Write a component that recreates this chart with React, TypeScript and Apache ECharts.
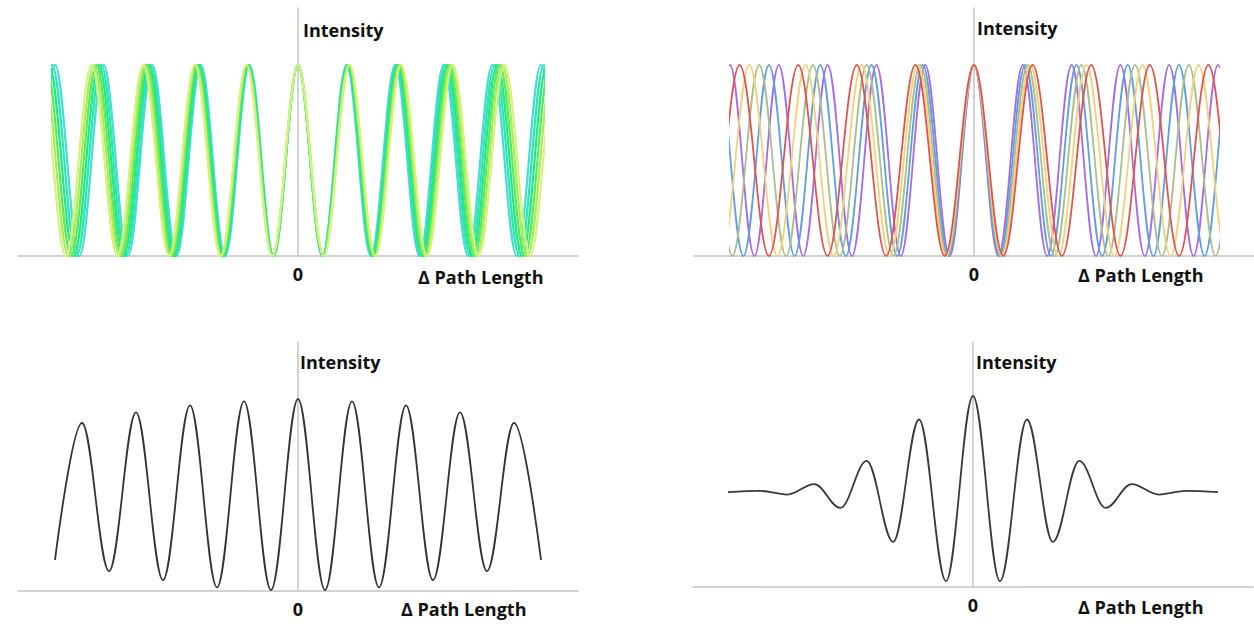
import React, { useEffect, useRef } from "react";
import * as echarts from "echarts";

// ---------------- data ----------------
// Top-left: narrow-band source, fringe periods (in units of the mean fringe period)
const narrowBandPeriods = [0.972, 0.984, 0.996, 1.008, 1.02, 1.032];
const narrowBandColors = ["#46dcd8", "#2ee4b4", "#22e884", "#5ce85c", "#a8ec5c", "#d6f27e"];

// Top-right: broad-band source, fringe periods (same unit)
const broadBandPeriods = [0.976, 1.025, 1.074, 1.123, 1.172];
const broadBandColors = ["#a66be6", "#5f9fe0", "#a8bf8f", "#f2d27d", "#e0534d"];

// Bottom-left: summed narrow-band fringes, extrema (x in fringe periods, y relative intensity)
const narrowSumX = [-4.5, -4, -3.5, -3, -2.5, -2, -1.5, -1, -0.5, 0, 0.5, 1, 1.5, 2, 2.5, 3, 3.5, 4, 4.5];
const narrowSumY = [0.162, 0.875, 0.104, 0.93, 0.057, 0.967, 0.019, 0.988, 0.005, 1, 0.005, 0.988, 0.019, 0.967, 0.057, 0.93, 0.104, 0.875, 0.162];

// Bottom-right: summed broad-band fringes (white-light interferogram), extrema
const broadSumX = [-4.54, -3.95, -3.44, -2.94, -2.46, -1.97, -1.48, -1, -0.5, 0, 0.5, 1, 1.48, 1.97, 2.46, 2.94, 3.44, 3.95, 4.54];
const broadSumY = [0.497, 0.503, 0.484, 0.539, 0.414, 0.66, 0.236, 0.877, 0.031, 1, 0.031, 0.877, 0.236, 0.66, 0.414, 0.539, 0.484, 0.503, 0.497];

// Axis texts
const zeroTickLabel = "0";
const yAxisTitle = "Intensity";
const xAxisTitle = "\u0394 Path Length";

// ---------------- layout ----------------
const FONT = '"Open Sans", "Liberation Sans", Arial, sans-serif';
const AXIS_COLOR = "#c4c4c4";

const panels = [
  {
    axes: { left: 18, top: 8, width: 560, height: 248 },
    plot: { left: 53, top: 65, width: 490, height: 191 },
    xRange: 4.9,
    intensity: [303, 30],
    path: [418, 277],
  },
  {
    axes: { left: 694, top: 8, width: 560, height: 248 },
    plot: { left: 730, top: 65, width: 488, height: 191 },
    xRange: 4.88,
    intensity: [977, 28],
    path: [1078, 275],
  },
  {
    axes: { left: 18, top: 342, width: 560, height: 249 },
    plot: { left: 55, top: 399, width: 486, height: 192 },
    xRange: 4.5,
    intensity: [300, 362],
    path: [401, 609],
  },
  {
    axes: { left: 693, top: 342, width: 560, height: 245 },
    plot: { left: 728, top: 396, width: 490, height: 191 },
    xRange: 4.54,
    intensity: [976, 362],
    path: [1078, 607],
  },
];

// fringe extrema (peaks at multiples of the period, minima half-way), drawn smoothly by ECharts
function fringeExtrema(period: number, limit: number): number[][] {
  const pts: number[][] = [];
  const n = Math.ceil(limit / (period / 2)) + 1;
  for (let k = -n; k <= n; k++) pts.push([(k * period) / 2, k % 2 === 0 ? 1 : 0]);
  return pts;
}

function buildOption() {
  const grid: any[] = [];
  const xAxis: any[] = [];
  const yAxis: any[] = [];
  const series: any[] = [];
  const graphic: any[] = [];

  panels.forEach((p, i) => {
    // axes grid
    grid.push({ ...p.axes, containLabel: false, outerBoundsMode: "none" });
    xAxis.push({
      type: "value",
      gridIndex: 2 * i,
      min: -1,
      max: 1,
      interval: 1,
      axisLine: { show: true, onZero: true, lineStyle: { color: AXIS_COLOR, width: 1.5 } },
      axisTick: { show: false },
      splitLine: { show: false },
      axisLabel: {
        show: true,
        margin: 18,
        verticalAlign: "middle",
        formatter: (v: number) => (v === 0 ? zeroTickLabel : ""),
        fontFamily: FONT,
        fontWeight: "bold",
        fontSize: 18,
        color: "#111",
      },
    });
    yAxis.push({
      type: "value",
      gridIndex: 2 * i,
      min: 0,
      max: 1,
      axisLine: { show: true, onZero: true, lineStyle: { color: AXIS_COLOR, width: 1.5 } },
      axisTick: { show: false },
      axisLabel: { show: false },
      splitLine: { show: false },
    });
    // plot grid
    grid.push({ ...p.plot, containLabel: false, outerBoundsMode: "none" });
    xAxis.push({ type: "value", gridIndex: 2 * i + 1, min: -p.xRange, max: p.xRange, show: false });
    yAxis.push({ type: "value", gridIndex: 2 * i + 1, min: 0, max: 1, show: false });

    graphic.push({
      type: "text",
      x: p.intensity[0],
      y: p.intensity[1],
      style: {
        text: yAxisTitle,
        font: `bold 18px ${FONT}`,
        fill: "#111",
        align: "left",
        verticalAlign: "middle",
        textAlign: "left",
        textVerticalAlign: "middle",
      },
    });
    graphic.push({
      type: "text",
      x: p.path[0],
      y: p.path[1],
      style: {
        text: xAxisTitle,
        font: `bold 18px ${FONT}`,
        fill: "#111",
        align: "left",
        verticalAlign: "middle",
        textAlign: "left",
        textVerticalAlign: "middle",
      },
    });
  });

  const lineBase = {
    type: "line",
    showSymbol: false,
    symbol: "none",
    smooth: 0.363,
    smoothMonotone: "x",
    silent: true,
    clip: true,
    z: 3,
  };

  narrowBandPeriods.forEach((period, j) => {
    series.push({
      ...lineBase,
      xAxisIndex: 1,
      yAxisIndex: 1,
      data: fringeExtrema(period, panels[0].xRange),
      lineStyle: { color: narrowBandColors[j], width: 2.2 },
    });
  });
  broadBandPeriods.forEach((period, j) => {
    series.push({
      ...lineBase,
      xAxisIndex: 3,
      yAxisIndex: 3,
      data: fringeExtrema(period, panels[1].xRange),
      lineStyle: { color: broadBandColors[j], width: 1.8 },
    });
  });
  series.push({
    ...lineBase,
    xAxisIndex: 5,
    yAxisIndex: 5,
    data: narrowSumX.map((x, k) => [x, narrowSumY[k]]),
    lineStyle: { color: "#333", width: 1.8 },
  });
  series.push({
    ...lineBase,
    xAxisIndex: 7,
    yAxisIndex: 7,
    data: broadSumX.map((x, k) => [x, broadSumY[k]]),
    lineStyle: { color: "#3a3a3a", width: 1.8 },
  });

  return {
    animation: false,
    backgroundColor: "#ffffff",
    grid,
    xAxis,
    yAxis,
    series,
    graphic,
  };
}

export default function App() {
  const ref = useRef<HTMLDivElement>(null);
  useEffect(() => {
    document.body.style.margin = "0";
    if (!ref.current) return;
    const chart = echarts.init(ref.current, undefined, { renderer: "svg" });
    chart.setOption(buildOption() as any);
    return () => chart.dispose();
  }, []);
  return (
    <div
      ref={ref}
      style={{ position: "absolute", left: 0, top: 0, width: 1254, height: 624, background: "#fff" }}
    />
  );
}
